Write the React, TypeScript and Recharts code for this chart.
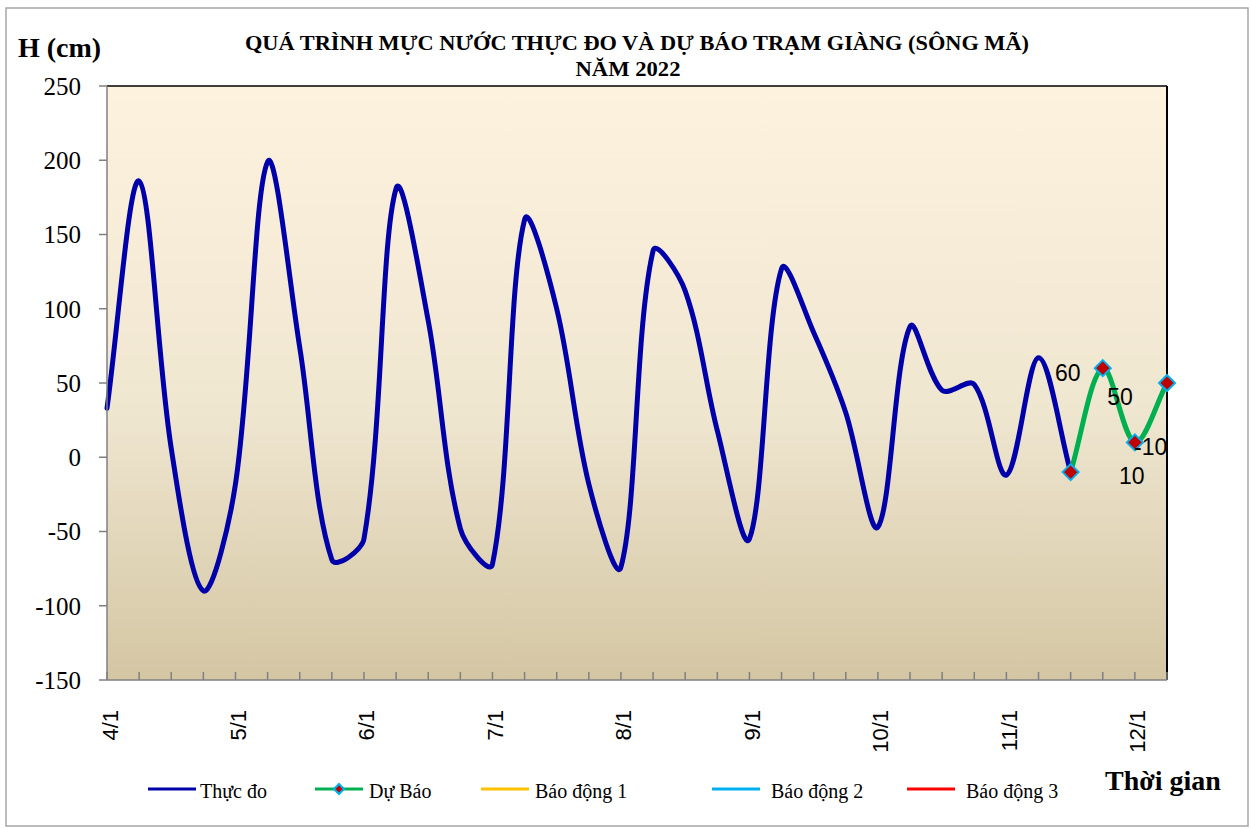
import React from 'react'
import {
  LineChart, Line, XAxis, YAxis, CartesianGrid, ReferenceLine, LabelList,
} from 'recharts'

// ── Data ──────────────────────────────────────────────────────────────────────

const days  = ['4/1', '5/1', '6/1', '7/1', '8/1', '9/1', '10/1', '11/1', '12/1']
const slots = ['1h', '7h', '13h', '19h']

// mực nước thực đo (cm), 4 lần/ngày
const thucDo = [
  33, 186, 6, -90, -18, 199, 74, -69,
  -55, 181, 92, -48, -72, 160, 100, -18,
  -74, 139, 112, 18, -55, 127, 84, 30,
  -47, 88, 45, 49, -12, 67, -10,
]

// dự báo, bắt đầu từ điểm đo cuối cùng
const duBao       = [-10, 60, 10, 50]
const duBaoStart  = 30
const duBaoLabels = ['-10', '60', '10', '50']

const yTicks = [-150, -100, -50, 0, 50, 100, 150, 200, 250]

const legendItems = [
  { label: 'Thực đo',    color: '#0000AA', marker: false },
  { label: 'Dự Báo',     color: '#00B050', marker: true  },
  { label: 'Báo động 1', color: '#FFC000', marker: false },
  { label: 'Báo động 2', color: '#00B0F0', marker: false },
  { label: 'Báo động 3', color: '#FF0000', marker: false },
]

const categories = days
  .flatMap(d => slots.map(s => `${s} ${d}`))
  .slice(0, duBaoStart + duBao.length)

const data = categories.map((t, i) => ({
  t,
  thucDo: i < thucDo.length ? thucDo[i] : null,
  duBao:  i >= duBaoStart ? duBao[i - duBaoStart] : null,
}))

// ── Smoothed line (Catmull-Rom with handles scaled by chord length, close to
//    what Excel's "smoothed line" gives) ────────────────────────────────────────

function excelSmooth(context: any) {
  let pts: number[][] = []
  const dist = (a: number[], b: number[]) => Math.hypot(b[0] - a[0], b[1] - a[1])
  return {
    areaStart() {},
    areaEnd() {},
    lineStart() { pts = [] },
    point(x: number, y: number) { pts.push([+x, +y]) },
    lineEnd() {
      if (!pts.length) return
      context.moveTo(pts[0][0], pts[0][1])
      for (let i = 0; i < pts.length - 1; i++) {
        const p0 = pts[i - 1] ?? pts[i]
        const p1 = pts[i]
        const p2 = pts[i + 1]
        const p3 = pts[i + 2] ?? pts[i + 1]
        const d01 = dist(p0, p1), d12 = dist(p1, p2), d23 = dist(p2, p3)
        const f1 = d01 + d12 > 0 ? d12 / (d01 + d12) / 3 : 0
        const f2 = d12 + d23 > 0 ? d12 / (d12 + d23) / 3 : 0
        context.bezierCurveTo(
          p1[0] + (p2[0] - p0[0]) * f1, p1[1] + (p2[1] - p0[1]) * f1,
          p2[0] - (p3[0] - p1[0]) * f2, p2[1] - (p3[1] - p1[1]) * f2,
          p2[0], p2[1],
        )
      }
    },
  }
}

// ── Pieces ────────────────────────────────────────────────────────────────────

const SERIF = '"Liberation Serif", "Times New Roman", serif'
const SANS  = '"Liberation Sans", Arial, sans-serif'

function DayTick(props: any) {
  const { x, y, payload, index } = props
  const i = payload?.index ?? index
  const lx = x + 3
  const ly = y + 30
  return (
    <g>
      <line x1={x} x2={x} y1={y} y2={y - 8} stroke="#808080" strokeWidth={1.5} />
      {i % 4 === 0 && (
        <text
          x={lx} y={ly}
          transform={`rotate(-90, ${lx}, ${ly})`}
          textAnchor="end"
          dominantBaseline="central"
          fontFamily={SANS}
          fontSize={22}
          fill="#000"
        >
          {days[i / 4]}
        </text>
      )}
    </g>
  )
}

function Diamond({ cx, cy, r = 8 }: { cx: number; cy: number; r?: number }) {
  if (cx == null || cy == null) return null
  return (
    <polygon
      points={`${cx},${cy - r} ${cx + r},${cy} ${cx},${cy + r} ${cx - r},${cy}`}
      fill="#C00000"
      stroke="#00B0F0"
      strokeWidth={2}
    />
  )
}

// label positions were dragged by hand in the original sheet
const labelOffset = [[80, -25], [-35, 5], [-3, 34], [-47, 14]]

function DuBaoLabel(props: any) {
  const { x, y, value, index } = props
  if (value == null || x == null || y == null) return null
  let k = typeof index === 'number' ? index - duBaoStart : -1
  if (k < 0 || k >= duBao.length) k = duBao.indexOf(value)
  const [dx, dy] = labelOffset[k]
  return (
    <text
      x={x + dx} y={y + dy}
      textAnchor="middle"
      dominantBaseline="central"
      fontFamily={SANS}
      fontSize={23}
      fill="#000"
    >
      {duBaoLabels[k]}
    </text>
  )
}

function Overlay() {
  const legendX     = [148, 315, 481, 712, 907]
  const legendTextX = [200, 369, 535, 771, 966]
  return (
    <svg
      width={1251} height={828}
      style={{ position: 'absolute', left: 0, top: 0, pointerEvents: 'none' }}
    >
      <rect x={6} y={8} width={1242} height={818} fill="none" stroke="#A6A6A6" strokeWidth={1.5} />
      <text x={637} y={50} textAnchor="middle" fontFamily={SERIF} fontWeight="bold" fontSize={21}
        textLength={784} lengthAdjust="spacingAndGlyphs">
        QUÁ TRÌNH MỰC NƯỚC THỰC ĐO VÀ DỰ BÁO TRẠM GIÀNG (SÔNG MÃ)
      </text>
      <text x={628} y={76} textAnchor="middle" fontFamily={SERIF} fontWeight="bold" fontSize={21}
        textLength={105} lengthAdjust="spacingAndGlyphs">
        NĂM  2022
      </text>
      <text x={18} y={57} fontFamily={SERIF} fontWeight="bold" fontSize={28}>H (cm)</text>
      <text x={1105} y={790} fontFamily={SERIF} fontWeight="bold" fontSize={28}>Thời gian</text>

      {legendItems.map((it, i) => (
        <g key={it.label}>
          <line x1={legendX[i]} x2={legendX[i] + 48} y1={789} y2={789} stroke={it.color} strokeWidth={3} />
          {it.marker && <Diamond cx={legendX[i] + 24} cy={789} r={5} />}
          <text x={legendTextX[i]} y={798} fontFamily={SERIF} fontSize={20} fill="#000">{it.label}</text>
        </g>
      ))}
    </svg>
  )
}

// ── Main ──────────────────────────────────────────────────────────────────────

export default function App() {
  return (
    <div style={{ position: 'absolute', left: 0, top: 0, width: 1251, height: 828, background: '#fff' }}>
      <svg width={0} height={0} style={{ position: 'absolute' }}>
        <defs>
          <linearGradient id="plotBg" x1="0" y1="0" x2="0" y2="1">
            <stop offset="0%"   stopColor="#FDF2DE" />
            <stop offset="55%"  stopColor="#EFE6D0" />
            <stop offset="100%" stopColor="#D4C6A3" />
          </linearGradient>
        </defs>
      </svg>

      <LineChart
        width={1251}
        height={828}
        data={data}
        margin={{ top: 86, right: 84, bottom: 88, left: 47 }}
      >
        <CartesianGrid horizontal={false} vertical={false} fill="url(#plotBg)" fillOpacity={1} />
        <XAxis
          dataKey="t"
          interval={0}
          tickLine={false}
          tickSize={0}
          tickMargin={0}
          height={60}
          axisLine={{ stroke: '#808080', strokeWidth: 1.5 }}
          tick={<DayTick />}
        />
        <YAxis
          domain={[-150, 250]}
          ticks={yTicks}
          interval={0}
          width={60}
          tickSize={8}
          tickMargin={18}
          axisLine={{ stroke: '#808080', strokeWidth: 1.5 }}
          tickLine={{ stroke: '#808080', strokeWidth: 1.5 }}
          tick={{ fontFamily: SERIF, fontSize: 25, fill: '#000' }}
        />
        <ReferenceLine y={250} stroke="#000" strokeWidth={1.5} />
        <ReferenceLine x={categories[categories.length - 1]} stroke="#000" strokeWidth={2} />

        <Line
          dataKey="thucDo"
          type={excelSmooth as any}
          stroke="#0000AA"
          strokeWidth={5}
          strokeLinecap="round"
          dot={false}
          activeDot={false}
          isAnimationActive={false}
        />
        <Line
          dataKey="duBao"
          type={excelSmooth as any}
          stroke="#00B050"
          strokeWidth={5}
          dot={(p: any) => <Diamond key={p.index} cx={p.cx} cy={p.cy} />}
          activeDot={false}
          isAnimationActive={false}
        >
          <LabelList dataKey="duBao" content={<DuBaoLabel />} />
        </Line>
      </LineChart>

      <Overlay />
    </div>
  )
}
